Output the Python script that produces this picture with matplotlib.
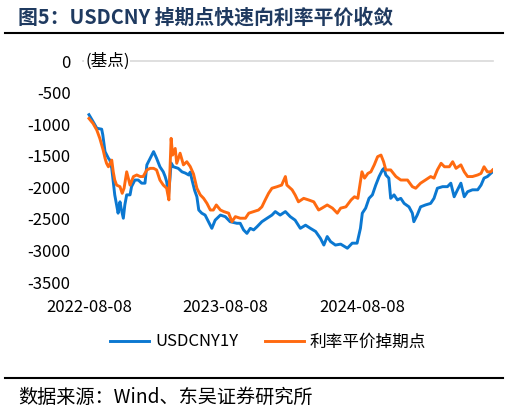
import pandas as pd
import matplotlib
matplotlib.use('Agg')
from matplotlib import pyplot as plt

plt.rcParams['font.family'] = ['Noto Sans CJK SC', 'DejaVu Sans']

# USDCNY 1Y swap points (bp)
usd_dates = ['2022-08-08', '2022-08-19', '2022-08-29', '2022-09-11', '2022-09-14', '2022-09-20',
             '2022-09-29', '2022-10-03', '2022-10-08', '2022-10-12', '2022-10-16', '2022-10-21',
             '2022-10-25', '2022-10-30', '2022-11-02', '2022-11-08', '2022-11-12', '2022-11-17',
             '2022-11-26', '2022-11-30', '2022-12-09', '2022-12-18', '2022-12-27', '2023-01-05',
             '2023-01-10', '2023-01-19', '2023-01-28', '2023-02-05', '2023-02-14', '2023-02-23',
             '2023-02-28', '2023-03-04', '2023-03-09', '2023-03-13', '2023-03-16', '2023-03-22',
             '2023-04-04', '2023-04-14', '2023-04-23', '2023-05-02', '2023-05-06', '2023-05-11',
             '2023-05-18', '2023-05-24', '2023-05-29', '2023-06-06', '2023-06-15', '2023-06-24',
             '2023-07-03', '2023-07-12', '2023-07-26', '2023-08-08', '2023-08-21', '2023-09-08',
             '2023-09-17', '2023-09-26', '2023-10-05', '2023-10-14', '2023-10-23', '2023-11-01',
             '2023-11-14', '2023-11-28', '2023-12-11', '2023-12-20', '2024-01-02', '2024-01-16',
             '2024-01-29', '2024-02-11', '2024-02-25', '2024-03-10', '2024-03-23', '2024-04-06',
             '2024-04-19', '2024-04-28', '2024-05-07', '2024-05-16', '2024-05-29', '2024-06-12',
             '2024-06-30', '2024-07-13', '2024-07-26', '2024-08-04', '2024-08-09', '2024-08-18',
             '2024-08-27', '2024-09-05', '2024-09-14', '2024-09-23', '2024-10-02', '2024-10-06',
             '2024-10-11', '2024-10-19', '2024-10-24', '2024-11-02', '2024-11-11', '2024-11-20',
             '2024-11-29', '2024-12-12', '2024-12-21', '2024-12-25', '2025-01-03', '2025-01-12',
             '2025-01-25', '2025-02-08', '2025-02-17', '2025-02-26', '2025-03-12', '2025-03-25',
             '2025-04-03', '2025-04-12', '2025-04-21', '2025-04-30', '2025-05-09', '2025-05-18',
             '2025-05-31', '2025-06-14', '2025-06-23', '2025-07-01', '2025-07-10', '2025-07-19',
             '2025-07-24']
usd_vals = [-850, -960, -1065, -1080, -1170, -1435,
            -1540, -1570, -1700, -1910, -2120, -2280,
            -2410, -2230, -2330, -2490, -2280, -2120,
            -2120, -1990, -1885, -1885, -1935, -1935,
            -1645, -1540, -1435, -1540, -1675, -1755,
            -1830, -1910, -2120, -1855, -1615, -1675,
            -1700, -1755, -1775, -1805, -1760, -1885,
            -2050, -2150, -2360, -2410, -2440, -2545,
            -2650, -2520, -2440, -2465, -2545, -2570,
            -2570, -2675, -2730, -2650, -2675, -2625,
            -2545, -2490, -2440, -2385, -2440, -2385,
            -2465, -2520, -2650, -2600, -2650, -2700,
            -2810, -2915, -2780, -2860, -2915, -2900,
            -2965, -2885, -2885, -2650, -2410, -2330,
            -2175, -2120, -1965, -1830, -1725, -1700,
            -1805, -1855, -2175, -2120, -2200, -2175,
            -2255, -2310, -2410, -2545, -2440, -2310,
            -2280, -2255, -2175, -2015, -1990, -1990,
            -1935, -2150, -2040, -1935, -2150, -2070,
            -2040, -2040, -1965, -1855, -1830, -1780,
            -1755]

# interest rate parity swap points (bp)
irp_dates = ['2022-08-08', '2022-08-19', '2022-08-29', '2022-09-06', '2022-09-15', '2022-09-20',
             '2022-09-24', '2022-09-29', '2022-10-08', '2022-10-12', '2022-10-16', '2022-10-21',
             '2022-10-30', '2022-11-05', '2022-11-10', '2022-11-17', '2022-11-26', '2022-12-05',
             '2022-12-14', '2022-12-23', '2022-12-31', '2023-01-10', '2023-01-19', '2023-01-28',
             '2023-02-05', '2023-02-14', '2023-02-23', '2023-03-04', '2023-03-10', '2023-03-16',
             '2023-03-20', '2023-03-27', '2023-03-31', '2023-04-09', '2023-04-18', '2023-04-27',
             '2023-05-06', '2023-05-15', '2023-05-24', '2023-06-02', '2023-06-11', '2023-06-20',
             '2023-06-29', '2023-07-07', '2023-07-15', '2023-07-26', '2023-08-04', '2023-08-17',
             '2023-08-26', '2023-09-04', '2023-09-17', '2023-10-01', '2023-10-10', '2023-10-23',
             '2023-11-05', '2023-11-14', '2023-11-23', '2023-12-02', '2023-12-11', '2023-12-25',
             '2024-01-06', '2024-01-16', '2024-01-20', '2024-02-03', '2024-02-11', '2024-02-20',
             '2024-03-05', '2024-03-18', '2024-04-01', '2024-04-14', '2024-04-23', '2024-05-07',
             '2024-05-21', '2024-06-03', '2024-06-12', '2024-06-26', '2024-07-10', '2024-07-19',
             '2024-07-28', '2024-08-08', '2024-08-15', '2024-08-24', '2024-09-01', '2024-09-10',
             '2024-09-19', '2024-09-28', '2024-10-05', '2024-10-11', '2024-10-24', '2024-11-07',
             '2024-11-20', '2024-12-08', '2024-12-21', '2024-12-30', '2025-01-12', '2025-01-25',
             '2025-02-08', '2025-02-17', '2025-02-26', '2025-03-08', '2025-03-17', '2025-03-30',
             '2025-04-08', '2025-04-17', '2025-04-30', '2025-05-09', '2025-05-18', '2025-05-31',
             '2025-06-14', '2025-06-23', '2025-07-01', '2025-07-10', '2025-07-19', '2025-07-24']
irp_vals = [-910, -990, -1095, -1225, -1410, -1540,
            -1620, -1675, -1570, -1755, -1885, -1965,
            -1990, -2095, -2015, -1755, -1965, -1830,
            -1805, -1830, -1830, -1725, -1700, -1700,
            -1725, -1885, -1965, -2015, -2200, -1225,
            -1490, -1385, -1620, -1460, -1645, -1595,
            -1670, -1790, -2015, -2120, -2175, -2255,
            -2360, -2360, -2280, -2360, -2385, -2410,
            -2545, -2465, -2490, -2490, -2410, -2385,
            -2360, -2310, -2200, -2095, -2015, -1990,
            -1965, -1830, -1965, -2040, -2120, -2230,
            -2175, -2200, -2230, -2360, -2330, -2280,
            -2330, -2410, -2330, -2310, -2200, -2150,
            -2175, -1755, -1855, -1780, -1755, -1645,
            -1515, -1490, -1595, -1725, -1725, -1830,
            -1885, -1885, -1990, -2015, -1935, -1885,
            -1830, -1855, -1725, -1620, -1675, -1675,
            -1595, -1700, -1645, -1755, -1830, -1830,
            -1805, -1780, -1675, -1755, -1755, -1725]

tick_labels = ['2022-08-08', '2023-08-08', '2024-08-08']
y_ticks = [0, -500, -1000, -1500, -2000, -2500, -3000, -3500]

blue = '#0b78d1'
orange = '#ff6a10'

W, H = 509, 411
fig = plt.figure(figsize=(W / 100, H / 100), dpi=100)
ax = fig.add_axes([83 / W, 1 - 282 / H, (493 - 83) / W, (282 - 61) / H])

ax.plot(pd.to_datetime(usd_dates), usd_vals, color=blue, lw=2.1, label='USDCNY1Y')
ax.plot(pd.to_datetime(irp_dates), irp_vals, color=orange, lw=2.1, label='利率平价掉期点')

ax.set_ylim(-3500, 0)
ax.set_xlim(pd.Timestamp('2022-07-23'), pd.Timestamp('2025-07-25'))
ax.set_yticks(y_ticks)
ax.set_yticklabels([str(v) for v in y_ticks])
ax.set_xticks(pd.to_datetime(tick_labels))
ax.set_xticklabels(tick_labels)
ax.tick_params(axis='both', length=0, labelsize=12, colors='black')
ax.tick_params(axis='y', pad=9)
ax.tick_params(axis='x', pad=12)
for s in ax.spines.values():
    s.set_visible(False)
ax.axhline(0, color='#d9d9d9', lw=1.2, clip_on=False, zorder=0)

ax.text(0.005, 0, '(基点)', transform=ax.get_yaxis_transform(), fontsize=12,
        va='center', ha='left', bbox=dict(facecolor='white', edgecolor='none', pad=0.5))

ax.legend(loc='upper center', bbox_to_anchor=(0.5 - 20 / 410, -0.165), ncol=2, frameon=False,
          fontsize=12, handlelength=2.35, columnspacing=1.6, handletextpad=0.35)

# title and source
fig.text(18 / W, 1 - 17 / H, '图5：USDCNY 掉期点快速向利率平价收敛', fontsize=14.3,
         fontweight='bold', color='#1f3a60', va='center', ha='left')
fig.add_artist(plt.Line2D([5 / W, 503 / W], [1 - 33 / H, 1 - 33 / H], color='black', lw=1.5))
fig.add_artist(plt.Line2D([5 / W, 503 / W], [1 - 378 / H, 1 - 378 / H], color='black', lw=1.5))
fig.text(18 / W, 1 - 397 / H, '数据来源：Wind、东吴证券研究所', fontsize=13.8,
         color='black', va='center', ha='left')

fig.savefig('out.png', dpi=100)
